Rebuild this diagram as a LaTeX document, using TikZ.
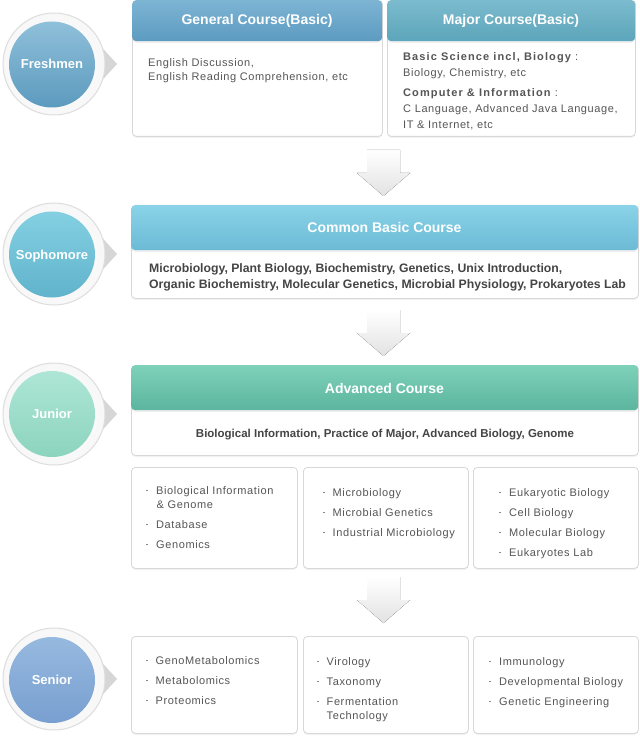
\documentclass[tikz,border=0pt]{standalone}
\usepackage{fontspec}
\setmainfont{Liberation Sans}
\newfontfamily\bodyfont[LetterSpace=5.5]{Liberation Sans}
\usetikzlibrary{shadows}
\definecolor{cardb}{HTML}{D8D8D8}
\definecolor{txtc}{HTML}{555555}
\definecolor{boldc}{HTML}{454545}
\definecolor{bulc}{HTML}{8A8A8A}
\definecolor{ringb}{HTML}{DDDDDD}
\definecolor{trig}{HTML}{D6D6D6}
\definecolor{arrowc}{HTML}{E2E2E2}
\definecolor{genT}{HTML}{7DB4D4}\definecolor{genB}{HTML}{5C9BC0}
\definecolor{majT}{HTML}{7CBBCE}\definecolor{majB}{HTML}{5CA5BA}
\definecolor{comT}{HTML}{8AD3E8}\definecolor{comB}{HTML}{6BBAD5}
\definecolor{advT}{HTML}{7ED1B9}\definecolor{advB}{HTML}{5CB59F}
\definecolor{frT}{HTML}{8FC0DA}\definecolor{frB}{HTML}{5C9ABE}
\definecolor{soT}{HTML}{84D0E2}\definecolor{soB}{HTML}{60B3CC}
\definecolor{juT}{HTML}{AEE6D6}\definecolor{juB}{HTML}{8CD4BE}
\definecolor{seT}{HTML}{96B9DF}\definecolor{seB}{HTML}{789FD0}
\newcommand{\blt}{\textcolor{bulc}{\rule[2.6pt]{1.8pt}{1.8pt}}\hspace{8.2pt}}
\tikzset{
  card/.style={draw=cardb, line width=0.8pt, fill=white, rounded corners=4pt,
    inner sep=0pt, anchor=north west,
    drop shadow={shadow xshift=0pt, shadow yshift=-1.6pt, opacity=0.10}},
  hdr/.style={rounded corners=4pt, inner sep=0pt, anchor=north west,
    drop shadow={shadow xshift=0pt, shadow yshift=-1.6pt, opacity=0.12}},
  ring/.style={circle, draw=ringb, line width=1pt, inner color=white, outer color=gray!6,
    minimum size=102pt, inner sep=0pt},
  disc/.style={circle, minimum size=86pt, inner sep=0pt},
  trg/.style={fill=trig},
  txt/.style={anchor=base west, inner sep=0pt, font=\bodyfont\fontsize{11}{13}\selectfont, text=txtc},
  sbtxt/.style={anchor=base west, inner sep=0pt, font=\bodyfont\addfontfeature{LetterSpace=10}\bfseries\fontsize{11}{13}\selectfont, text=txtc},
  htxt/.style={anchor=base, inner sep=0pt, font=\bfseries\fontsize{14}{16}\selectfont, text=white},
  ctxt/.style={anchor=base, inner sep=0pt, font=\bfseries\fontsize{13}{15}\selectfont, text=white},
  btxt/.style={anchor=base west, inner sep=0pt, font=\bfseries\fontsize{12.25}{14}\selectfont, text=boldc},
  darrow/.pic={\fill[top color=white, bottom color=arrowc]
    (-16.5,0) -- (16.5,0) -- (16.5,23) -- (26.5,23) -- (0,46) -- (-26.5,23) -- (-16.5,23) -- cycle;}
}
\begin{document}
\begin{tikzpicture}[x=1pt,y=-1pt]
\useasboundingbox[fill=white] (0,0) rectangle (639,743);

% ---------- badges ----------
\fill[trg] (95,40) -- (117,64) -- (95,88) -- cycle;
\node[ring] (fo) at (54,64) {};
\node[disc, top color=frT, bottom color=frB] (fi) at (52,64.5) {};
\node[ctxt] (ft) at (52,69) {Freshmen};

\fill[trg] (95,230) -- (117,254) -- (95,278) -- cycle;
\node[ring] (so) at (54,254) {};
\node[disc, top color=soT, bottom color=soB] (si) at (52,254.5) {};
\node[ctxt] (st) at (52,259) {Sophomore};

\fill[trg] (95,390) -- (117,414) -- (95,438) -- cycle;
\node[ring] (jo) at (54,414) {};
\node[disc, top color=juT, bottom color=juB] (ji) at (52,414) {};
\node[ctxt] (jt) at (52,418.5) {Junior};

\fill[trg] (95,655) -- (117,679) -- (95,703) -- cycle;
\node[ring] (seo) at (54,679) {};
\node[disc, top color=seT, bottom color=seB] (sei) at (52,680) {};
\node[ctxt] (set) at (52,684.5) {Senior};

% ---------- freshmen ----------
\node[card, minimum width=250pt, minimum height=136pt] (gen) at (132,0) {};
\node[hdr, top color=genT, bottom color=genB, minimum width=250pt, minimum height=41pt] (genh) at (132,0) {};
\node[htxt] (gent) at (257,25) {General Course(Basic)};
\node[txt] (g1) at (148,67) {English Discussion,};
\node[txt] (g2) at (148,81) {English Reading Comprehension, etc};

\node[card, minimum width=248pt, minimum height=136pt] (maj) at (387,0) {};
\node[hdr, top color=majT, bottom color=majB, minimum width=248pt, minimum height=41pt] (majh) at (387,0) {};
\node[htxt] (majt) at (511,25) {Major Course(Basic)};
\node[sbtxt] (m1) at (403,61) {Basic Science incl, Biology\mdseries\ :};
\node[txt] (m2) at (403,77) {Biology, Chemistry, etc};
\node[sbtxt] (m3) at (403,97) {Computer \& Information\mdseries\ :};
\node[txt] (m4) at (403,113) {C Language, Advanced Java Language,};
\node[txt] (m5) at (403,129) {IT \& Internet, etc};

\pic at (383.5,150) {darrow};

% ---------- sophomore ----------
\node[card, minimum width=507pt, minimum height=93pt] (com) at (131,205) {};
\node[hdr, top color=comT, bottom color=comB, minimum width=507pt, minimum height=45pt] (comh) at (131,205) {};
\node[htxt] (comt) at (384.5,233) {Common Basic Course};
\node[btxt] (c1) at (149,272.5) {Microbiology, Plant Biology, Biochemistry, Genetics, Unix Introduction,};
\node[btxt] (c2) at (149,288.5) {Organic Biochemistry, Molecular Genetics, Microbial Physiology, Prokaryotes Lab};

\pic at (383.5,310) {darrow};

% ---------- junior ----------
\node[card, minimum width=507pt, minimum height=90pt] (adv) at (131,365) {};
\node[hdr, top color=advT, bottom color=advB, minimum width=507pt, minimum height=45pt] (advh) at (131,365) {};
\node[htxt] (advt) at (384.5,393) {Advanced Course};
\node[btxt, anchor=base, font=\bfseries\fontsize{11.5}{14}\selectfont] (a1) at (385,437.5) {Biological Information, Practice of Major, Advanced Biology, Genome};

\node[card, minimum width=166pt, minimum height=101pt] (j1) at (131,467) {};
\node[card, minimum width=165pt, minimum height=101pt] (j2) at (303,467) {};
\node[card, minimum width=165pt, minimum height=101pt] (j3) at (473,467) {};
\node[txt] (j1a) at (146,494) {\blt Biological Information};
\node[txt] (j1b) at (156.5,508) {\& Genome};
\node[txt] (j1c) at (146,528) {\blt Database};
\node[txt] (j1d) at (146,548) {\blt Genomics};
\node[txt] (j2a) at (322.5,496) {\blt Microbiology};
\node[txt] (j2b) at (322.5,516) {\blt Microbial Genetics};
\node[txt] (j2c) at (322.5,536) {\blt Industrial Microbiology};
\node[txt] (j3a) at (499,496) {\blt Eukaryotic Biology};
\node[txt] (j3b) at (499,516) {\blt Cell Biology};
\node[txt] (j3c) at (499,536) {\blt Molecular Biology};
\node[txt] (j3d) at (499,556) {\blt Eukaryotes Lab};

\pic at (383.5,577) {darrow};

% ---------- senior ----------
\node[card, minimum width=166pt, minimum height=97pt] (s1) at (131,636) {};
\node[card, minimum width=165pt, minimum height=97pt] (s2) at (303,636) {};
\node[card, minimum width=165pt, minimum height=97pt] (s3) at (473,636) {};
\node[txt] (s1a) at (145.5,664) {\blt GenoMetabolomics};
\node[txt] (s1b) at (145.5,684) {\blt Metabolomics};
\node[txt] (s1c) at (145.5,704) {\blt Proteomics};
\node[txt] (s2a) at (316.5,665) {\blt Virology};
\node[txt] (s2b) at (316.5,685) {\blt Taxonomy};
\node[txt] (s2c) at (316.5,705) {\blt Fermentation};
\node[txt] (s2d) at (326.5,719) {Technology};
\node[txt] (s3a) at (489,665) {\blt Immunology};
\node[txt] (s3b) at (489,685) {\blt Developmental Biology};
\node[txt] (s3c) at (489,705) {\blt Genetic Engineering};
\end{tikzpicture}
\end{document}
